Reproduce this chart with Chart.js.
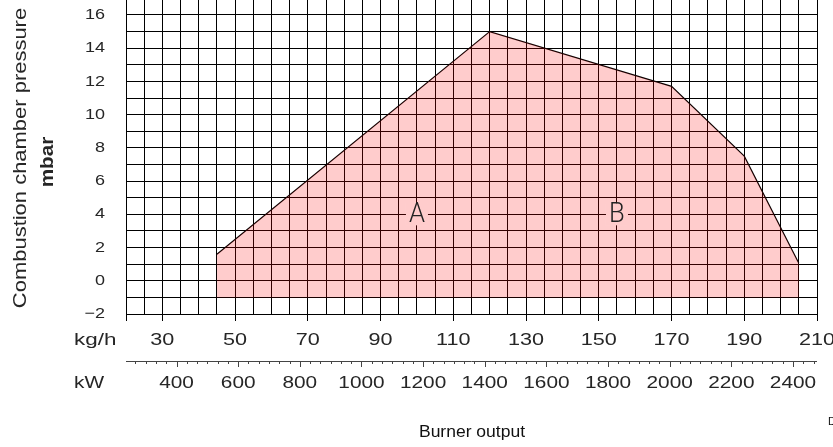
<!DOCTYPE html>
<html>
<head>
<meta charset="utf-8">
<script src="https://cdn.jsdelivr.net/npm/chart.js@4/dist/chart.umd.min.js"></script>
<style>
  html, body { margin: 0; padding: 0; background: #fff; }
  #wrap { position: relative; width: 833px; height: 447px; overflow: hidden; }
  canvas { display: block; }
</style>
</head>
<body>
<div id="wrap"><canvas id="chart" width="833" height="447"></canvas></div>
<script>
// Working field of the burner: output (kg/h) against combustion chamber pressure (mbar)
const outputKgh    = [45, 120, 170, 190, 205];
const pressureMbar = [1.6, 15, 11.7, 7.5, 1.05];
const fieldFloor   = -1;

// Axis labels
const kghTickLabels = [30, 50, 70, 90, 110, 130, 150, 170, 190, 210];
const kwTickLabels  = [400, 600, 800, 1000, 1200, 1400, 1600, 1800, 2000, 2200, 2400];
const pressureTickLabels = [-2, 0, 2, 4, 6, 8, 10, 12, 14, 16];

// Zone markers inside the field
const zoneNames = ['A', 'B'];
const zoneKgh   = [100, 155];
const zoneMbar  = [4, 4];

// Scale ranges
const kghMin = 20, kghMax = 210;
const kwMin = 236, kwMax = 2478;
const mbarMin = -2, mbarMax = 16.9;

const FONT = '"Liberation Sans", Arial, Helvetica, sans-serif';
const THIN = 'Roboto, "Liberation Sans", Arial, sans-serif';
const INK = '#262626';

const boundary = outputKgh.map((x, i) => ({ x, y: pressureMbar[i] }));
const fieldShape = [{ x: outputKgh[0], y: fieldFloor }]
  .concat(boundary)
  .concat([{ x: outputKgh[outputKgh.length - 1], y: fieldFloor }]);

function range(a, b, step) {
  const out = [];
  for (let v = a; v <= b + 1e-9; v += step) out.push(Math.round(v * 1000) / 1000);
  return out;
}

// Text with a horizontal stretch factor
function stretchedText(ctx, text, x, y, font, sx, align, color) {
  ctx.save();
  ctx.font = font;
  ctx.fillStyle = color || INK;
  ctx.textBaseline = 'middle';
  ctx.textAlign = align;
  ctx.translate(x, y);
  ctx.scale(sx, 1);
  ctx.fillText(text, 0, 0);
  ctx.restore();
}

function verticalText(ctx, text, x, y, font, sx) {
  ctx.save();
  ctx.translate(x, y);
  ctx.rotate(-Math.PI / 2);
  ctx.scale(sx, 1);
  ctx.font = font;
  ctx.fillStyle = INK;
  ctx.textAlign = 'center';
  ctx.textBaseline = 'middle';
  ctx.fillText(text, 0, 0);
  ctx.restore();
}

// Fill is drawn slightly inside the boundary line
const insetFill = {
  id: 'insetFill',
  beforeDatasetDraw(chart, args) {
    if (args.index === 0) { chart.ctx.save(); chart.ctx.translate(-0.6, 1.6); }
  },
  afterDatasetDraw(chart, args) {
    if (args.index === 0) chart.ctx.restore();
  }
};

const axisText = {
  id: 'axisText',
  afterDraw(chart) {
    const ctx = chart.ctx;
    const xs = chart.scales.x, ys = chart.scales.y, kw = chart.scales.kw;

    // pressure tick labels
    pressureTickLabels.forEach(v => {
      const t = v < 0 ? '\u2212' + Math.abs(v) : String(v);
      stretchedText(ctx, t, 105, ys.getPixelForValue(v), '15px ' + FONT, 1.2, 'right');
    });

    // kg/h row
    stretchedText(ctx, 'kg/h', 74, 341, '16px ' + FONT, 1.4, 'left');
    kghTickLabels.forEach(v => {
      stretchedText(ctx, String(v), xs.getPixelForValue(v), 341, '16px ' + FONT, 1.35, 'center');
    });

    // kW row: axis line with major and minor ticks
    const lineY = 361;
    ctx.save();
    ctx.strokeStyle = '#444';
    ctx.lineWidth = 1;
    ctx.beginPath();
    ctx.moveTo(kw.left, lineY + 0.5);
    ctx.lineTo(kw.right, lineY + 0.5);
    kwTickLabels.forEach(v => {
      const px = Math.round(kw.getPixelForValue(v)) + 0.5;
      ctx.moveTo(px, lineY);
      ctx.lineTo(px, lineY + 6);
    });
    const minorStep = 200 / 6;
    for (let v = kwTickLabels[0] - 5 * minorStep; v <= kwMax; v += minorStep) {
      if (v < kwMin) continue;
      const px = Math.round(kw.getPixelForValue(v)) + 0.5;
      ctx.moveTo(px, lineY);
      ctx.lineTo(px, lineY + 3);
    }
    ctx.stroke();
    ctx.restore();

    stretchedText(ctx, 'kW', 74, 384, '16px ' + FONT, 1.3, 'left');
    kwTickLabels.forEach(v => {
      stretchedText(ctx, String(v), kw.getPixelForValue(v), 384, '16px ' + FONT, 1.3, 'center');
    });

    // axis titles
    stretchedText(ctx, 'Burner output', 472, 432, '17px ' + FONT, 1.03, 'center', '#111');
    stretchedText(ctx, 'D', 828, 422, '11px ' + FONT, 1.0, 'left', '#111');
    verticalText(ctx, 'Combustion chamber pressure', 21, 158, '18px ' + FONT, 1.22);
    verticalText(ctx, 'mbar', 48, 162, 'bold 18px ' + FONT, 1.15);

    // zone markers with a clear box behind them
    zoneNames.forEach((name, i) => {
      const px = xs.getPixelForValue(zoneKgh[i]);
      const py = ys.getPixelForValue(zoneMbar[i]);
      ctx.save();
      ctx.fillStyle = '#ffcccc';
      ctx.fillRect(px - 11, py - 11, 22, 22);
      ctx.restore();
      stretchedText(ctx, name, px, py + 1, '300 27px ' + THIN, 0.95, 'center', '#222');
    });
  }
};

new Chart(document.getElementById('chart'), {
  type: 'scatter',
  data: {
    datasets: [
      {
        data: fieldShape,
        showLine: true,
        fill: 'shape',
        backgroundColor: 'rgba(255,0,0,0.2)',
        borderWidth: 0,
        borderColor: 'rgba(0,0,0,0)',
        pointRadius: 0,
        tension: 0
      },
      {
        data: boundary,
        showLine: true,
        fill: false,
        borderColor: '#000',
        borderWidth: 1.2,
        pointRadius: 0,
        tension: 0
      }
    ]
  },
  options: {
    responsive: false,
    animation: false,
    devicePixelRatio: 1,
    layout: { padding: { left: 0, right: 16, top: 0, bottom: 0 } },
    plugins: { legend: { display: false }, tooltip: { enabled: false } },
    scales: {
      x: {
        type: 'linear', position: 'bottom', min: kghMin, max: kghMax,
        afterBuildTicks: s => { s.ticks = range(kghMin, kghMax, 5).map(v => ({ value: v })); },
        afterFit: s => { s.height = 447 - 314; s.paddingLeft = 0; s.paddingRight = 0; },
        ticks: { display: false },
        grid: {
          color: '#000', lineWidth: 1, drawTicks: true, tickLength: 7,
          tickColor: c => (c.tick && (c.tick.value === kghMin || (c.tick.value - 10) % 20 === 0)) ? '#000' : 'rgba(0,0,0,0)'
        },
        border: { display: true, color: '#000', width: 1 }
      },
      kw: {
        type: 'linear', axis: 'x', position: 'bottom', display: false, min: kwMin, max: kwMax
      },
      y: {
        type: 'linear', position: 'left', min: mbarMin, max: mbarMax,
        afterBuildTicks: s => { s.ticks = range(mbarMin, 16, 1).map(v => ({ value: v })); },
        afterFit: s => { s.width = 126; s.paddingTop = 0; s.paddingBottom = 0; },
        ticks: { display: false },
        grid: { color: '#000', lineWidth: 1, drawTicks: false },
        border: { display: true, color: '#000', width: 1 }
      }
    }
  },
  plugins: [insetFill, axisText]
});
</script>
</body>
</html>
